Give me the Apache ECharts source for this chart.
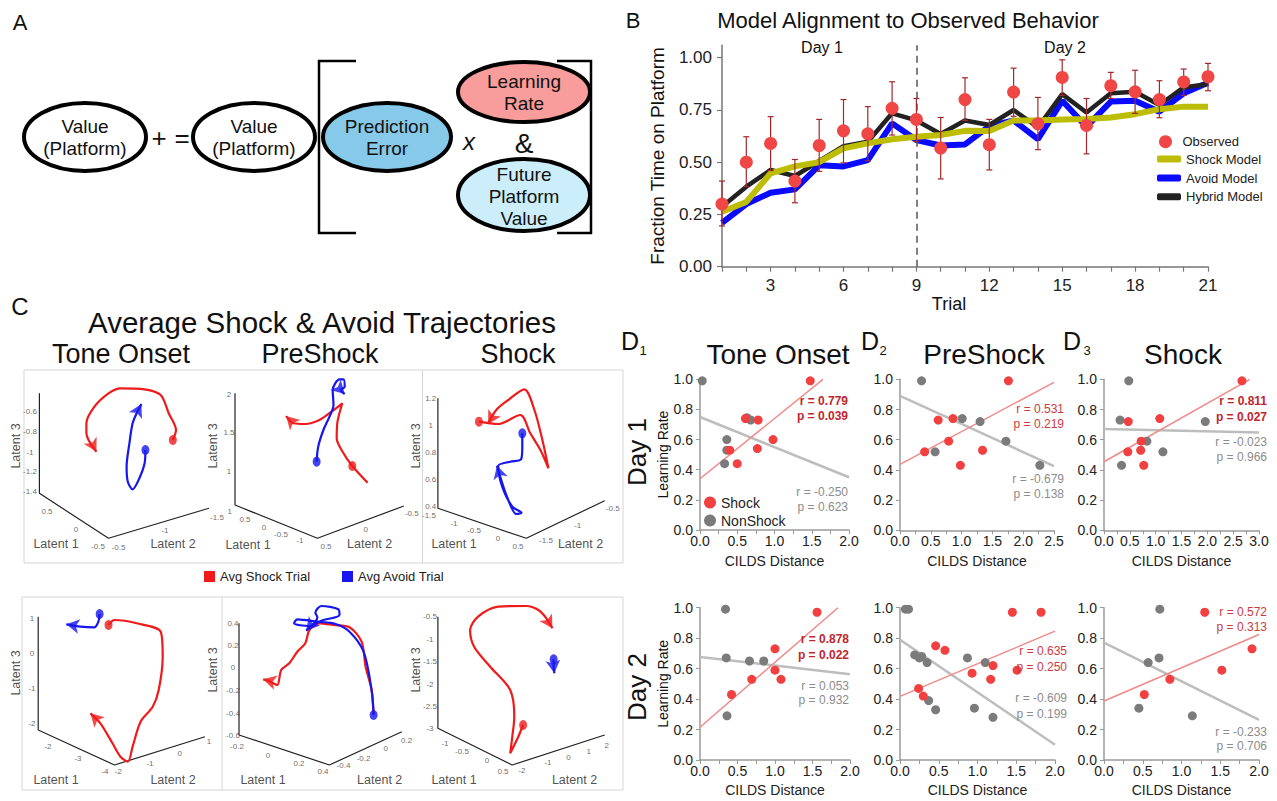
<!DOCTYPE html>
<html><head><meta charset="utf-8">
<script src="https://cdn.jsdelivr.net/npm/echarts@6/dist/echarts.min.js"></script>
<style>html,body{margin:0;padding:0;background:#fff}#c{width:1277px;height:801px}</style>
</head><body><div id="c"></div>
<script>
// ---------------- Panel B data ----------------
const trials = [1,2,3,4,5,6,7,8,9,10,11,12,13,14,15,16,17,18,19,20,21];
const trialTickLabels = [3,6,9,12,15,18,21];
const fractionTickLabels = [0,0.25,0.5,0.75,1];
const observed = [0.30,0.50,0.59,0.41,0.58,0.65,0.636,0.758,0.705,0.568,0.80,0.584,0.836,0.684,0.906,0.676,0.866,0.837,0.80,0.884,0.909];
const obsLow  = [0.195,0.383,0.46,0.306,0.456,0.497,0.507,0.63,0.60,0.42,0.70,0.463,0.72,0.56,0.82,0.54,0.805,0.734,0.713,0.82,0.842];
const obsHigh = [0.41,0.622,0.718,0.513,0.705,0.80,0.766,0.885,0.805,0.714,0.904,0.705,0.95,0.81,0.99,0.805,0.93,0.94,0.89,0.946,0.973];
const shockModel  = [0.263,0.31,0.447,0.48,0.50,0.566,0.59,0.61,0.622,0.63,0.65,0.649,0.70,0.70,0.705,0.707,0.714,0.73,0.754,0.766,0.766];
const avoidModel  = [0.21,0.30,0.354,0.37,0.485,0.48,0.51,0.686,0.606,0.58,0.585,0.673,0.70,0.61,0.794,0.67,0.79,0.794,0.742,0.83,0.88];
const hybridModel = [0.287,0.383,0.463,0.434,0.506,0.577,0.598,0.734,0.70,0.635,0.70,0.678,0.75,0.667,0.826,0.738,0.83,0.837,0.774,0.858,0.874];
const dayBoundaryTrial = 9;

// ---------------- Panel D data ----------------
const d1Day1Shock = [[1.48,0.99],[0.61,0.74],[0.78,0.73],[0.98,0.60],[0.77,0.54],[0.40,0.53],[0.50,0.44]];
const d1Day1Non   = [[0.03,0.99],[0.63,0.745],[0.68,0.73],[0.36,0.60],[0.36,0.53],[0.33,0.44]];
const d1Day1ShockFit = [[0,0.34],[1.65,1.0]];
const d1Day1NonFit   = [[0,0.75],[2.0,0.35]];
const d2Day1Shock = [[1.76,0.99],[0.40,0.52],[0.62,0.73],[0.86,0.74],[0.79,0.59],[0.98,0.43],[1.34,0.53]];
const d2Day1Non   = [[0.35,0.99],[0.57,0.52],[1.01,0.74],[1.30,0.72],[1.72,0.59],[2.27,0.43]];
const d2Day1ShockFit = [[0,0.437],[2.5,0.98]];
const d2Day1NonFit   = [[0,0.89],[2.5,0.425]];
const d3Day1Shock = [[2.67,0.99],[0.47,0.72],[1.08,0.74],[0.72,0.59],[0.46,0.52],[0.71,0.53],[0.77,0.43]];
const d3Day1Non   = [[0.48,0.99],[0.31,0.73],[0.34,0.43],[0.83,0.59],[1.14,0.52],[1.96,0.72]];
const d3Day1ShockFit = [[0,0.454],[2.82,1.0]];
const d3Day1NonFit   = [[0,0.671],[3.0,0.647]];
const d1Day2Shock = [[1.56,0.97],[1.0,0.73],[1.0,0.59],[1.08,0.53],[0.69,0.53],[0.42,0.43]];
const d1Day2Non   = [[0.34,0.99],[0.35,0.67],[0.66,0.65],[0.85,0.65],[0.36,0.29]];
const d1Day2ShockFit = [[0,0.215],[1.84,1.0]];
const d1Day2NonFit   = [[0,0.677],[2.0,0.563]];
const d2Day2Shock = [[1.45,0.97],[1.82,0.97],[0.46,0.75],[0.58,0.72],[0.93,0.57],[1.20,0.62],[1.17,0.53],[1.51,0.59],[0.24,0.47],[0.30,0.42]];
const d2Day2Non   = [[0.07,0.99],[0.11,0.99],[0.19,0.69],[0.25,0.67],[0.28,0.68],[0.35,0.64],[0.37,0.39],[0.46,0.33],[0.87,0.67],[1.10,0.64],[0.96,0.34],[1.20,0.28]];
const d2Day2ShockFit = [[0,0.418],[2.0,0.846]];
const d2Day2NonFit   = [[0,0.79],[2.0,0.10]];
const d3Day2Shock = [[1.30,0.97],[1.91,0.73],[1.52,0.59],[0.85,0.53],[0.52,0.43]];
const d3Day2Non   = [[0.72,0.99],[0.57,0.64],[0.71,0.67],[0.45,0.34],[1.14,0.29]];
const d3Day2ShockFit = [[0,0.387],[2.0,0.824]];
const d3Day2NonFit   = [[0,0.77],[2.0,0.264]];
const dXMax = [2.0, 2.5, 3.0, 2.0, 2.0, 2.0];
const dShockStats = [['r = 0.779','p = 0.039',true],['r = 0.531','p = 0.219',false],['r = 0.811','p = 0.027',true],
                     ['r = 0.878','p = 0.022',true],['r = 0.635','p = 0.250',false],['r = 0.572','p = 0.313',false]];
const dNonStats = [['r = -0.250','p = 0.623'],['r = -0.679','p = 0.138'],['r = -0.023','p = 0.966'],
                   ['r = 0.053','p = 0.932'],['r = -0.609','p = 0.199'],['r = -0.233','p = 0.706']];
const dTitles = ['Tone Onset','PreShock','Shock'];

// ---------------- Panel C data (projected trajectory coordinates) ----------------
const toneTopRed  = [[172.8,440],[176,430],[168.7,413.3],[160.7,395],[144.6,389.3],[120.5,388.3],[108.5,393.3],[94.4,406.7],[86.4,423.3],[86.4,433.3],[96.4,451.7]];
const toneTopBlue = [[145.4,450],[144.6,463.3],[138.6,480],[132.6,489.3],[127.8,481.7],[126.6,466.7],[129.4,443.3],[132.6,423.3],[136.6,413.3],[141.4,404]];
const preTopRed   = [[367.6,482.7],[352.3,466],[343.5,453.3],[336.7,438.3],[337.5,421.7],[342.3,403.3],[331.5,411.7],[319.4,420],[305.3,424],[293.3,423.3],[286.1,416]];
const preTopBlue  = [[316.6,461.7],[318.2,446.7],[323.4,430],[329.5,416.7],[333.5,405],[332.7,390],[339.5,379.3],[343.5,379.3],[344.7,386.7],[340.7,390],[344.7,394]];
const shockTopRed = [[478.9,421.7],[498.2,424],[520.3,415],[530.3,433.3],[540.4,450],[548.4,468.3],[542.4,440],[534.4,410],[524.3,389.3],[508.2,400],[496.2,410],[488.1,424]];
const shockTopBlue= [[522.3,433.3],[522.3,446.7],[521.1,459.3],[510.2,461.7],[498.2,466],[502.2,486.7],[512.3,506.7],[521.5,512.7],[516.3,514],[507,496.7],[500.2,476.7],[497,465.7]];
const toneBotRed  = [[108.5,625],[114.5,620],[136.6,623.3],[160.7,631.7],[162.7,656.7],[158.7,690],[152.7,706.7],[140.6,721.7],[132.6,746.7],[127.8,761.7],[120.5,756.7],[112.5,743.3],[100.4,723.3],[90.4,713.3]];
const toneBotBlue = [[99.6,614],[98.4,621.7],[94.4,627.3],[80.4,626.7],[72.3,625.3],[66.3,624.3]];
const preBotRed   = [[373.6,715],[371.6,690],[365.6,666.7],[361.6,641.7],[349.5,627.3],[333.5,625],[319.4,623.3],[309.4,630],[305.3,643.3],[297.3,651.7],[289.3,663.3],[281.2,670],[277.2,685],[268.4,680.7],[263.2,679.3]];
const preBotBlue  = [[373.6,715],[371.6,690],[363.6,651.7],[349.5,631.7],[335.5,624],[317.4,621.7],[297.3,619.3],[294.1,623.3],[309.4,626],[321.4,620.7],[339.5,615],[338.3,609.3],[321.4,606],[315.4,612.7],[317.4,617.3],[306.1,630.7]];
const shockBotRed = [[523.1,725],[518.3,736.7],[510.2,753.3],[512.3,736.7],[514.3,716.7],[510.2,690],[490.2,666.7],[474.1,646.7],[470.1,630],[478.1,616.7],[498.2,606.7],[526.3,606],[538.4,610],[546.4,618.3],[552.4,628.3]];
const shockBotBlue= [[553.6,659.3],[553.6,666.7],[554.4,673.3]];
const startRed  = [[172.8,440],[352.3,466],[478.9,421.7],[108.5,625],[523.1,725]];
const startBlue = [[145.4,450],[316.6,461.7],[522.3,433.3],[99.6,614],[373.6,715],[553.6,659.3]];
const axisFrames = [
  [[39.4,393.3],[39.4,493.3],[108.5,538.3],[208.9,508.3]],
  [[235,393.3],[235,505],[317.4,538.3],[403.8,506]],
  [[437.9,398.3],[437.9,508.3],[526.3,538.3],[604.7,500.7]],
  [[38.2,616.7],[38.2,730],[114.5,765],[204.9,736.7]],
  [[239,623.3],[239,735],[329.4,765],[401.8,731.7]],
  [[437.9,616.7],[437.9,728.3],[512.2,765],[604.7,735]]
];
const axisTickLabels = [
  [30,411.7,'-0.6'],[30,431.7,'-0.8'],[30,452,'-1'],[30,471.7,'-1.2'],[30,491.7,'-1.4'],
  [47,511.7,'0.5'],[76,529,'0'],[98,546.7,'-0.5'],[118.5,547,'-0.5'],[165,530,'-1'],[217,517.7,'-1.5'],
  [229,394,'2'],[229,432.7,'1.5'],[229,471.7,'1'],
  [229.8,511.7,'1'],[245,519,'0.5'],[264,527,'0'],[281,534,'-0.5'],[300,540.7,'-1'],[326,546,'0.5'],[365.6,529,'0'],[411.8,513,'-0.5'],
  [430.7,398,'1.2'],[430.7,425,'1'],[430.7,452,'0.8'],[430.7,479,'0.6'],[430.7,506,'0.4'],
  [429,515,'-1.5'],[454,523,'-1'],[474,530.7,'-0.5'],[498,538,'0'],[518,546.7,'0.5'],[546,540.7,'-1.5'],[577.7,525,'-1'],[612.7,508,'-0.5'],
  [32,618,'1'],[32,653,'0'],[32,688,'-1'],[32,723,'-2'],
  [48,746.7,'-2'],[78,758,'-3'],[105,771.7,'-4'],[118.5,771.7,'-2'],[150,763,'-1'],[179.6,753,'0'],[209,741.7,'1'],
  [233,623,'0.4'],[233,645.7,'0.2'],[233,667.7,'0'],[233,690,'-0.2'],[233,713,'-0.4'],[233,735,'-0.6'],
  [237,746.7,'-0.2'],[268,755,'0'],[299,763,'0.2'],[323,771.7,'0.4'],[343.5,765,'-0.4'],[363.6,758,'-0.2'],[385.7,748,'0'],[406.6,740,'0.2'],
  [430,616.7,'-0.5'],[430,639,'-1'],[430,661.7,'-1.5'],[430,684,'-2'],[430,706,'-2.5'],[430,728,'-3'],
  [445,743,'-1'],[462,751.7,'-0.5'],[487,760.7,'0'],[503,771.7,'0.5'],[522,770,'-2'],[548,762.7,'-1'],[568.5,757,'0'],[588.6,751.7,'1'],[606.7,745,'2']
];
const axisNames = [
  [56,544,'Latent 1'],[173,544,'Latent 2'],[248,545,'Latent 1'],[369.6,544,'Latent 2'],[454,544,'Latent 1'],[580.5,544,'Latent 2'],
  [56,780,'Latent 1'],[173,780,'Latent 2'],[263,780,'Latent 1'],[379.7,780,'Latent 2'],[454,780,'Latent 1'],[574.5,780,'Latent 2']
];
const axisNames3 = [[16,446,'Latent 3'],[213,446,'Latent 3'],[416,446,'Latent 3'],[16,673,'Latent 3'],[213,670,'Latent 3'],[416,670,'Latent 3']];

// ---------------- layout / style ----------------
const FONT = "'Liberation Sans', Arial, Helvetica, sans-serif";
const NARROW = "'Liberation Sans Narrow', 'Liberation Sans', Arial, sans-serif";
const RED_DOT = '#f24040', GRAY_DOT = '#7b7b7b';
const dLayout = [
  {left:700, top:379.3, width:149, height:150.7},
  {left:900, top:379.3, width:154, height:151},
  {left:1104, top:379.3, width:155, height:151},
  {left:700, top:607.7, width:150, height:152.3},
  {left:900, top:607.7, width:155, height:152.3},
  {left:1104, top:607.7, width:155, height:152.3}
];
const dStatPos = [
  {x:848, r:[401,416], g:[492,507]},
  {x:1064, r:[409,424], g:[479,494]},
  {x:1267, r:[401,416.7], g:[442,457]},
  {x:849, r:[639,655], g:[686,700]},
  {x:1067, r:[651,667], g:[698,714]},
  {x:1267, r:[612,627], g:[732,746]}
];
const dShockSets = [d1Day1Shock,d2Day1Shock,d3Day1Shock,d1Day2Shock,d2Day2Shock,d3Day2Shock];
const dNonSets = [d1Day1Non,d2Day1Non,d3Day1Non,d1Day2Non,d2Day2Non,d3Day2Non];
const dShockFits = [d1Day1ShockFit,d2Day1ShockFit,d3Day1ShockFit,d1Day2ShockFit,d2Day2ShockFit,d3Day2ShockFit];
const dNonFits = [d1Day1NonFit,d2Day1NonFit,d3Day1NonFit,d1Day2NonFit,d2Day2NonFit,d3Day2NonFit];
const trajRed = [toneTopRed,preTopRed,shockTopRed,toneBotRed,preBotRed,shockBotRed];
const trajBlue = [toneTopBlue,preTopBlue,shockTopBlue,toneBotBlue,preBotBlue,shockBotBlue];

const chart = echarts.init(document.getElementById('c'), null, {renderer:'svg', width:1277, height:801});

const graphics = [];
function T(x, y, text, size, extra) {
  extra = extra || {};
  graphics.push({
    type:'text', x:x, y:y, rotation: extra.rotation || 0, z:100,
    style: Object.assign({text:text, fontSize:size, fontFamily: extra.family || FONT, fill: extra.fill || '#111',
      fontWeight: extra.weight || 'normal', fontStyle: extra.style || 'normal',
      textAlign: extra.align || 'center', align: extra.align || 'center',
      textVerticalAlign:'middle', verticalAlign:'middle', lineHeight: extra.lineHeight || size})
  });
}
// Panel A diagram
function E(cx, cy, rx, ry, fill) {
  graphics.push({type:'ellipse', z:90, shape:{cx:cx, cy:cy, rx:rx, ry:ry}, style:{fill:fill, stroke:'#000', lineWidth:4}});
}
E(85,137,61,34,'#ffffff'); E(254,137,61,34,'#ffffff'); E(387,137,64,34,'#86c9e9');
E(524,92,66,30,'#f89c9c'); E(524,195,66,36,'#cbeefa');
T(85,137,'Value\n(Platform)',19,{family:NARROW, lineHeight:22});
T(254,137,'Value\n(Platform)',19,{family:NARROW, lineHeight:22});
T(387,137,'Prediction\nError',19,{family:NARROW, lineHeight:22});
T(524,92,'Learning\nRate',19,{family:NARROW, lineHeight:22});
T(524,196,'Future\nPlatform\nValue',19,{family:NARROW, lineHeight:22});
T(159,138,'+',26); T(182,138,'=',26);
T(469,141,'x',24,{style:'italic'}); T(524,143,'&',28);
graphics.push({type:'polyline', z:90, shape:{points:[[356,61],[319,61],[319,233],[356,233]]}, style:{stroke:'#000', lineWidth:2.5, fill:null}});
graphics.push({type:'polyline', z:90, shape:{points:[[557,61],[591,61],[591,233],[557,233]]}, style:{stroke:'#000', lineWidth:2.5, fill:null}});
// panel labels
T(20,22,'A',22); T(633,20,'B',22); T(20,306,'C',24);
T(630,341,'D',25); T(643,350,'1',13); T(870,341,'D',25); T(883,350,'2',13); T(1072,341,'D',25); T(1087,350,'3',13);
// B annotations
T(908,20,'Model Alignment to Observed Behavior',22);
T(822,47,'Day 1',16); T(1065,47,'Day 2',16);
// C titles
T(322,322,'Average Shock & Avoid Trajectories',29.5);
T(121,354,'Tone Onset',27); T(320,354,'PreShock',27); T(518,354,'Shock',27);
graphics.push({type:'rect', z:1, shape:{x:24,y:370,width:599,height:193}, style:{fill:null, stroke:'#d5d5d5', lineWidth:1}});
graphics.push({type:'line', z:1, shape:{x1:422.5,y1:370,x2:422.5,y2:563}, style:{stroke:'#d5d5d5', lineWidth:1}});
graphics.push({type:'rect', z:1, shape:{x:22,y:597,width:601,height:193}, style:{fill:null, stroke:'#d5d5d5', lineWidth:1}});
graphics.push({type:'line', z:1, shape:{x1:222,y1:597,x2:222,y2:790}, style:{stroke:'#d5d5d5', lineWidth:1}});
// D titles and day labels
T(778,354,dTitles[0],28); T(984,354,dTitles[1],28); T(1183,354,dTitles[2],28);
T(637,452,'Day 1',26,{rotation:Math.PI/2}); T(637,687,'Day 2',26,{rotation:Math.PI/2});
// D stats
for (let i = 0; i < 6; i++) {
  const p = dStatPos[i], s = dShockStats[i], g = dNonStats[i];
  const w = s[2] ? 'bold' : 'normal', col = s[2] ? '#c0262e' : '#cd3a42';
  T(p.x, p.r[0], s[0], 12, {align:'right', weight:w, fill:col});
  T(p.x, p.r[1], s[1], 12, {align:'right', weight:w, fill:col});
  T(p.x, p.g[0], g[0], 12, {align:'right', fill:'#8c8c8c'});
  T(p.x, p.g[1], g[1], 12, {align:'right', fill:'#8c8c8c'});
}

// ---------------- axes ----------------
const grids = [{left:722, top:45.2, width:486, height:221.5}].concat(dLayout).concat([{left:0, top:290, width:630, height:510}]);
grids.forEach(g => { g.containLabel = false; g.outerBoundsMode = 'none'; });

const xAxes = [], yAxes = [];
xAxes.push({type:'value', gridIndex:0, min:1, max:21, interval:1,
  axisLine:{show:true, onZero:false, lineStyle:{color:'#777', width:1.5}},
  axisTick:{show:true, length:5, lineStyle:{color:'#777', width:1.2}},
  axisLabel:{fontSize:17, color:'#222', fontFamily:FONT, margin:10, formatter: v => trialTickLabels.indexOf(v) >= 0 ? String(v) : ''},
  splitLine:{show:false},
  name:'Trial', nameLocation:'middle', nameGap:24, nameTextStyle:{fontSize:18, color:'#111', fontFamily:FONT, padding:[0,32,0,0]}});
yAxes.push({type:'value', gridIndex:0, min:0, max:1.06, interval:0.25,
  axisLine:{show:true, onZero:false, lineStyle:{color:'#777', width:1.5}},
  axisTick:{show:true, length:5, customValues: fractionTickLabels, lineStyle:{color:'#777', width:1.2}},
  axisLabel:{fontSize:17, color:'#222', fontFamily:FONT, margin:10, customValues: fractionTickLabels,
    formatter: v => fractionTickLabels.some(t => Math.abs(t - v) < 1e-6) ? v.toFixed(2) : ''},
  splitLine:{show:false},
  name:'Fraction Time on Platform', nameLocation:'middle', nameGap:55, nameTextStyle:{fontSize:19, color:'#111', fontFamily:FONT}});
for (let i = 0; i < 6; i++) {
  const bottomRow = i >= 3;
  xAxes.push({type:'value', gridIndex:i+1, min:0, max:dXMax[i], interval:0.5,
    axisLine:{show:true, onZero:false, lineStyle:{color:'#9a9a9a', width:1.5}},
    axisTick:{show:true, length:4, lineStyle:{color:'#9a9a9a'}},
    minorTick:{show:true, splitNumber:2, length:4, lineStyle:{color:'#9a9a9a'}},
    axisLabel:{fontSize:14, color:'#222', fontFamily:FONT, margin:4, formatter: v => v.toFixed(1)},
    splitLine:{show:false}, minorSplitLine:{show:false},
    name:'CILDS Distance', nameLocation:'middle', nameGap: bottomRow ? 23 : 24,
    nameTextStyle:{fontSize:14, color:'#222', fontFamily:FONT}});
  yAxes.push({type:'value', gridIndex:i+1, min:0, max:1, interval:0.2,
    axisLine:{show:true, onZero:false, lineStyle:{color:'#9a9a9a', width:1.5}},
    axisTick:{show:true, length:4, lineStyle:{color:'#9a9a9a'}},
    axisLabel:{fontSize:14, color:'#222', fontFamily:FONT, margin:7, formatter: v => v.toFixed(1)},
    splitLine:{show:false},
    name: (i % 3 === 0) ? 'Learning Rate' : '', nameLocation:'middle', nameGap:30,
    nameTextStyle:{fontSize:14, color:'#111', fontFamily:FONT}});
}
xAxes.push({type:'value', gridIndex:7, min:0, max:630, show:false});
yAxes.push({type:'value', gridIndex:7, min:290, max:800, inverse:true, show:false});

// ---------------- series ----------------
const series = [];
const pair = (xs, ys) => xs.map((x, i) => [x, ys[i]]);
series.push({name:'Avoid Model', type:'line', xAxisIndex:0, yAxisIndex:0, data:pair(trials, avoidModel), symbol:'none',
  color:'#0a0aff', lineStyle:{color:'#0a0aff', width:6}, itemStyle:{color:'#0a0aff'}, z:2});
series.push({name:'Hybrid Model', type:'line', xAxisIndex:0, yAxisIndex:0, data:pair(trials, hybridModel), symbol:'none',
  color:'#222', lineStyle:{color:'#222', width:4.5}, itemStyle:{color:'#222'}, z:3,
  markLine:{silent:true, symbol:'none', label:{show:false}, data:[{xAxis:dayBoundaryTrial}],
    lineStyle:{type:[7,5], color:'#555', width:1.5}}});
series.push({name:'Shock Model', type:'line', xAxisIndex:0, yAxisIndex:0, data:pair(trials, shockModel), symbol:'none',
  color:'#bdbd06', lineStyle:{color:'#bdbd06', width:6}, itemStyle:{color:'#bdbd06'}, z:4});
series.push({name:'ErrorBars', type:'custom', xAxisIndex:0, yAxisIndex:0, z:5,
  data: trials.map((t, i) => [t, obsLow[i], obsHigh[i]]),
  renderItem: function (params, api) {
    const x = api.value(0);
    const lo = api.coord([x, api.value(1)]), hi = api.coord([x, api.value(2)]);
    const w = 3, st = {stroke:'#a3282b', lineWidth:1.2};
    return {type:'group', children:[
      {type:'line', shape:{x1:lo[0], y1:lo[1], x2:hi[0], y2:hi[1]}, style:st},
      {type:'line', shape:{x1:lo[0]-w, y1:lo[1], x2:lo[0]+w, y2:lo[1]}, style:st},
      {type:'line', shape:{x1:hi[0]-w, y1:hi[1], x2:hi[0]+w, y2:hi[1]}, style:st}
    ]};
  }});
series.push({name:'Observed', type:'scatter', xAxisIndex:0, yAxisIndex:0, data:pair(trials, observed),
  symbol:'circle', symbolSize:13, itemStyle:{color:'#f04646', opacity:1}, z:6});

for (let i = 0; i < 6; i++) {
  const ax = i + 1;
  series.push({name:'NonShock fit', type:'line', xAxisIndex:ax, yAxisIndex:ax, data:dNonFits[i], symbol:'none', clip:false,
    lineStyle:{color:'#bdbdbd', width:2.5}, z:2, silent:true});
  series.push({name:'Shock fit', type:'line', xAxisIndex:ax, yAxisIndex:ax, data:dShockFits[i], symbol:'none', clip:false,
    lineStyle:{color:'#f08a8a', width:1.5}, z:3, silent:true});
  series.push({name:'NonShock', type:'scatter', xAxisIndex:ax, yAxisIndex:ax, data:dNonSets[i], symbolSize:9,
    itemStyle:{color:GRAY_DOT, opacity:1}, z:4});
  series.push({name:'Shock', type:'scatter', xAxisIndex:ax, yAxisIndex:ax, data:dShockSets[i], symbolSize:9,
    itemStyle:{color:RED_DOT, opacity:1}, z:5});
}

// Panel C (hidden projection axes)
axisFrames.forEach(f => series.push({type:'line', xAxisIndex:7, yAxisIndex:7, data:f, symbol:'none', silent:true,
  lineStyle:{color:'#222', width:1.2}, z:2}));
series.push({type:'scatter', xAxisIndex:7, yAxisIndex:7, silent:true, symbolSize:1, itemStyle:{color:'rgba(0,0,0,0)'},
  data: axisTickLabels.map(t => ({value:[t[0], t[1]], name:t[2]})),
  label:{show:true, position:'inside', formatter: p => p.name, fontSize:8, color:'#444', fontFamily:FONT}, z:2});
series.push({type:'scatter', xAxisIndex:7, yAxisIndex:7, silent:true, symbolSize:1, itemStyle:{color:'rgba(0,0,0,0)'},
  data: axisNames.map(t => ({value:[t[0], t[1]], name:t[2]})),
  label:{show:true, position:'inside', formatter: p => p.name, fontSize:12.5, color:'#222', fontFamily:FONT}, z:2});
series.push({type:'scatter', xAxisIndex:7, yAxisIndex:7, silent:true, symbolSize:1, itemStyle:{color:'rgba(0,0,0,0)'},
  data: axisNames3.map(t => ({value:[t[0], t[1]], name:t[2]})),
  label:{show:true, position:'inside', rotate:90, formatter: p => p.name, fontSize:12.5, color:'#222', fontFamily:FONT}, z:2});
function arrowAngle(tr) {
  const a = tr[tr.length - 2], b = tr[tr.length - 1];
  return Math.atan2(-(b[0] - a[0]), -(b[1] - a[1])) * 180 / Math.PI;
}
[[trajRed, 'Avg Shock Trial', '#f01a1a', startRed], [trajBlue, 'Avg Avoid Trial', '#1616ee', startBlue]].forEach(([sets, nm, col, starts]) => {
  sets.forEach(tr => series.push({name:nm, type:'line', xAxisIndex:7, yAxisIndex:7, data:tr, symbol:'none', smooth:0.3,
    color:col, lineStyle:{color:col, width:2.2}, itemStyle:{color:col}, z:4, silent:true}));
  series.push({name:nm + ' start', type:'scatter', xAxisIndex:7, yAxisIndex:7, data:starts, symbol:'circle', symbolSize:[8,10],
    itemStyle:{color:col}, z:5, silent:true});
  series.push({name:nm + ' end', type:'scatter', xAxisIndex:7, yAxisIndex:7, silent:true, z:5,
    data: sets.map(tr => ({value: tr[tr.length - 1], symbolRotate: arrowAngle(tr)})),
    symbol:'arrow', symbolSize:[11,13], itemStyle:{color:col}});
});

const legText = {fontSize:13, color:'#222', fontFamily:FONT};
const legends = [
  {data:['Observed'], left:1159, top:135.2, icon:'circle', itemWidth:24, itemHeight:13},
  {data:['Shock Model'], left:1157, top:152.5, icon:'roundRect', itemWidth:24, itemHeight:7},
  {data:['Avoid Model'], left:1157, top:171.5, icon:'roundRect', itemWidth:24, itemHeight:7},
  {data:['Hybrid Model'], left:1157, top:190.2, icon:'roundRect', itemWidth:24, itemHeight:7},
  {data:['Shock'], left:704, top:495.5, icon:'circle', itemWidth:12, itemHeight:12, textStyle:{fontSize:14, color:'#222', fontFamily:FONT}},
  {data:['NonShock'], left:704, top:513.5, icon:'circle', itemWidth:12, itemHeight:12, textStyle:{fontSize:14, color:'#222', fontFamily:FONT}},
  {data:['Avg Shock Trial'], left:204, top:570, icon:'rect', itemWidth:11, itemHeight:11},
  {data:['Avg Avoid Trial'], left:342, top:570, icon:'rect', itemWidth:11, itemHeight:11}
].map(l => Object.assign({orient:'vertical', padding:0, selectedMode:false, textStyle:legText, itemGap:0}, l));

chart.setOption({
  backgroundColor:'#ffffff',
  animation:false,
  textStyle:{fontFamily:FONT},
  grid: grids,
  xAxis: xAxes,
  yAxis: yAxes,
  legend: legends,
  series: series,
  graphic: graphics
});
</script>
</body></html>
